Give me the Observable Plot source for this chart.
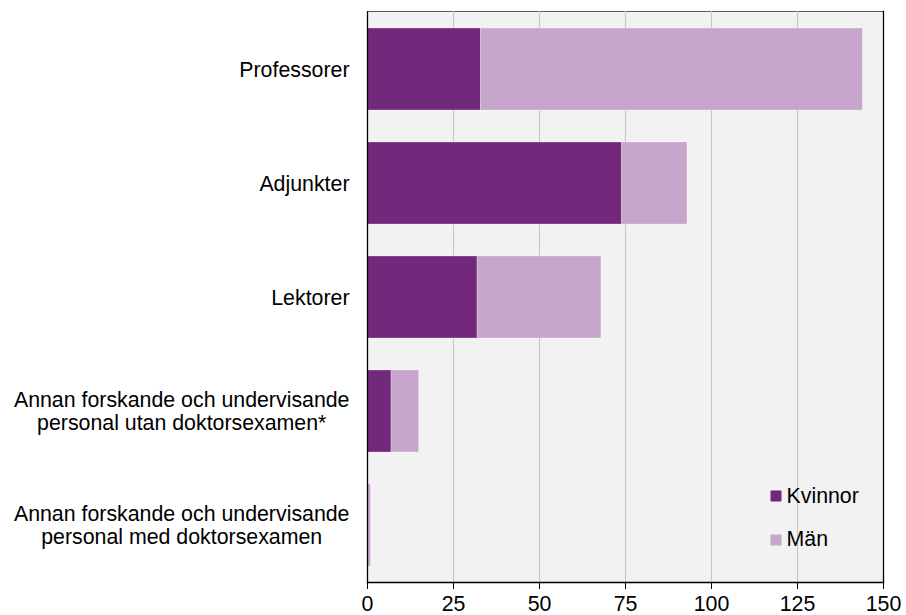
<!DOCTYPE html>
<html><head><meta charset="utf-8">
<script src="https://cdn.jsdelivr.net/npm/d3@7"></script>
<script src="https://cdn.jsdelivr.net/npm/@observablehq/plot@0.6"></script>
<style>
body{margin:0;background:#fff;}
#chart svg{display:block;}
</style>
</head><body><div id="chart"></div>
<script>
const categories = [
  "Professorer",
  "Adjunkter",
  "Lektorer",
  "Annan forskande och undervisande\npersonal utan doktorsexamen*",
  "Annan forskande och undervisande\npersonal med doktorsexamen"
];
const series = ["Kvinnor", "Män"];
const kvinnor = [33, 74, 32, 7, 0];
const man = [111, 19, 36, 8, 1];
const xTicks = [0, 25, 50, 75, 100, 125, 150];
const gridTicks = [25, 50, 75, 100, 125];
const colors = ["#72287b", "#c6a6ca"];

const data = categories.flatMap((c, i) => [
  {category: c, series: series[0], value: kvinnor[i]},
  {category: c, series: series[1], value: man[i]}
]);

const font = "'Liberation Sans', Arial, sans-serif";
const fs = 21.33;

const plot = Plot.plot({
  width: 906,
  height: 615,
  marginTop: 11,
  marginRight: 23,
  marginBottom: 33,
  marginLeft: 367,
  style: {fontFamily: font, fontSize: fs + "px", color: "#000", background: "#fff"},
  x: {domain: [0, 150], ticks: xTicks},
  y: {domain: categories, paddingInner: 0.282, paddingOuter: 0.141},
  color: {domain: series, range: colors},
  marks: [
    Plot.frame({fill: "#f2f2f2", stroke: "#5a5a5a"}),
    Plot.gridX(gridTicks, {stroke: "#c8c8c8", strokeOpacity: 1, strokeWidth: 1.2}),
    Plot.barX(data, {x: "value", y: "category", fill: "series", stroke: "#fff", strokeOpacity: 0.35, strokeWidth: 0.8}),
    Plot.ruleX([0], {stroke: "#000", strokeWidth: 1.3}),
    Plot.frame({anchor: "bottom", stroke: "#000", strokeWidth: 1.3}),
    Plot.frame({anchor: "right", stroke: "#000", strokeWidth: 1.3}),
    Plot.axisX({ticks: xTicks, tickSize: 7, tickPadding: 6, stroke: "#000", fill: "#000", fontSize: fs, label: null}),
    Plot.axisY({tickSize: 0, tickPadding: 18, fill: "#000", fontSize: fs, lineHeight: 1.06, label: null}),
    ...series.map((s, i) => Plot.dot([s], {
      frameAnchor: "bottom-right", dx: -107.5, dy: -86.5 + 44 * i,
      symbol: "square", r: 6.2, fill: d => d
    })),
    ...series.map((s, i) => Plot.text([s], {
      frameAnchor: "bottom-right", lineAnchor: "middle", dx: -97, dy: -86 + 43 * i,
      text: d => d, textAnchor: "start", fill: "#000", fontSize: fs
    }))
  ]
});

document.getElementById("chart").appendChild(plot);

// Center the lines of multi-line y labels within their right-aligned block
d3.select(plot).selectAll('g[aria-label="y-axis tick label"] text').each(function() {
  const tspans = d3.select(this).selectAll("tspan");
  if (tspans.size() > 1) {
    let w = 0;
    tspans.each(function() { w = Math.max(w, this.getComputedTextLength()); });
    d3.select(this).attr("text-anchor", "middle");
    tspans.attr("x", -w / 2);
  }
});
</script>
</body></html>
